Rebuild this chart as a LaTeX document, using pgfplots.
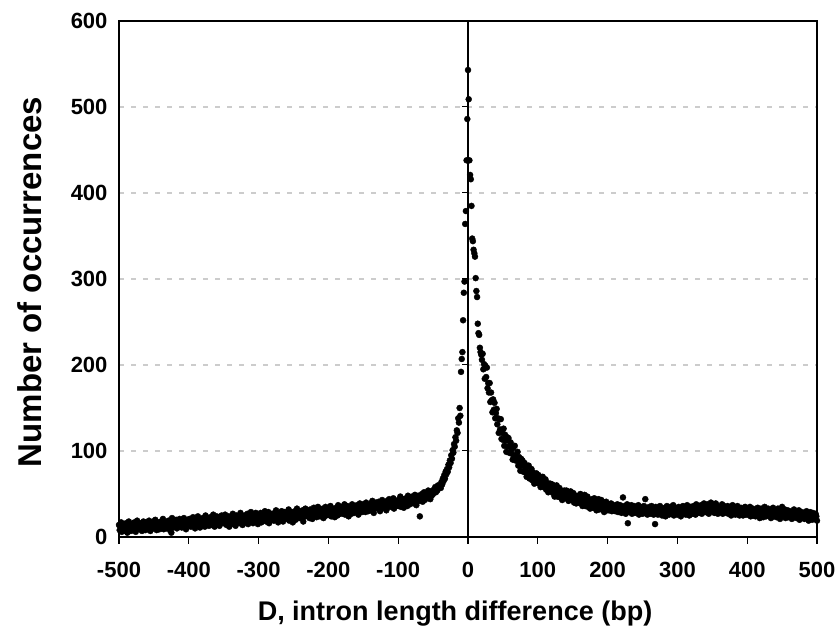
\documentclass[border=0pt]{standalone}
\usepackage{pgfplots}
\pgfplotsset{compat=1.18}
\usepackage{fontspec}
\setmainfont{Liberation Sans}
\begin{document}
\begin{tikzpicture}
\begin{axis}[
 width=698pt, height=516pt, scale only axis,
 xmin=-500, xmax=500, ymin=0, ymax=600,
 axis line style={line width=1.6pt},
 xtick={-500,-400,-300,-200,-100,0,100,200,300,400,500},
 xticklabels={-500,-400,-300,-200,-100,0,100,200,300,400,500},
 ytick={0,100,200,300,400,500,600},
 yticklabels={0,100,200,300,400,500,600},
 xtick pos=bottom, ytick pos=left,
 xtick align=outside,
 major tick length=7pt,
 y tick style={draw=none},
 x tick style={line width=1.2pt, black},
 ymajorgrids,
 grid style={line width=1.3pt, gray!40, dash pattern=on 5pt off 7pt},
 tick label style={font=\bfseries\fontsize{22}{22}\selectfont},
 xticklabel style={yshift=-15pt},
 yticklabel style={xshift=-8pt},
 clip=false,
]
\draw[line width=1.3pt] (axis cs:0,0) -- (axis cs:0,600);
\pgfplotsinvokeforeach{100,200,300,400,500}{\draw[line width=1pt] (axis cs:0,#1) -- ([xshift=-6pt]axis cs:0,#1);}
\addplot[only marks, mark=*, mark size=3pt, black] coordinates {
(-500,14)(-499,8)(-498,12)(-497,17)(-496,6)(-495,10)(-494,15)(-493,9)(-492,13)(-491,7)
(-490,16)(-489,11)(-488,5)(-487,13)(-486,18)(-485,9)(-484,12)(-483,7)(-482,15)(-481,10)
(-480,8)(-479,14)(-478,17)(-477,11)(-476,6)(-475,13)(-474,19)(-473,10)(-472,12)(-471,15)
(-470,9)(-469,16)(-468,12)(-467,7)(-466,14)(-465,18)(-464,11)(-463,13)(-462,8)(-461,17)
(-460,12)(-459,15)(-458,9)(-457,19)(-456,13)(-455,7)(-454,16)(-453,11)(-452,14)(-451,18)
(-450,10)(-449,14)(-448,20)(-447,12)(-446,8)(-445,17)(-444,13)(-443,15)(-442,9)(-441,16)
(-440,18)(-439,11)(-438,14)(-437,21)(-436,9)(-435,15)(-434,13)(-433,17)(-432,10)(-431,16)
(-430,12)(-429,19)(-428,14)(-427,8)(-426,17)(-425,5)(-424,22)(-423,11)(-422,13)(-421,16)
(-420,17)(-419,13)(-418,20)(-417,10)(-416,15)(-415,18)(-414,12)(-413,21)(-412,14)(-411,16)
(-410,11)(-409,19)(-408,15)(-407,22)(-406,13)(-405,17)(-404,9)(-403,18)(-402,16)(-401,20)
(-400,14)(-399,21)(-398,17)(-397,12)(-396,19)(-395,15)(-394,23)(-393,13)(-392,18)(-391,10)
(-390,20)(-389,15)(-388,18)(-387,24)(-386,13)(-385,17)(-384,11)(-383,21)(-382,16)(-381,19)
(-380,22)(-379,14)(-378,18)(-377,12)(-376,25)(-375,17)(-374,20)(-373,15)(-372,19)(-371,13)
(-370,16)(-369,23)(-368,19)(-367,14)(-366,21)(-365,26)(-364,17)(-363,12)(-362,20)(-361,18)
(-360,24)(-359,15)(-358,19)(-357,22)(-356,13)(-355,20)(-354,17)(-353,25)(-352,18)(-351,21)
(-350,16)(-349,22)(-348,26)(-347,19)(-346,14)(-345,21)(-344,18)(-343,24)(-342,12)(-341,20)
(-340,23)(-339,17)(-338,20)(-337,27)(-336,15)(-335,22)(-334,19)(-333,13)(-332,25)(-331,21)
(-330,18)(-329,24)(-328,21)(-327,16)(-326,28)(-325,20)(-324,23)(-323,14)(-322,22)(-321,19)
(-320,25)(-319,17)(-318,22)(-317,19)(-316,27)(-315,15)(-314,24)(-313,21)(-312,18)(-311,29)
(-310,20)(-309,23)(-308,16)(-307,26)(-306,22)(-305,18)(-304,28)(-303,21)(-302,24)(-301,15)
(-300,25)(-299,19)(-298,23)(-297,28)(-296,17)(-295,22)(-294,26)(-293,20)(-292,24)(-291,30)
(-290,21)(-289,18)(-288,26)(-287,23)(-286,29)(-285,16)(-284,24)(-283,22)(-282,27)(-281,20)
(-280,26)(-279,22)(-278,19)(-277,28)(-276,24)(-275,31)(-274,21)(-273,25)(-272,17)(-271,23)
(-270,20)(-269,27)(-268,24)(-267,30)(-266,22)(-265,18)(-264,26)(-263,29)(-262,23)(-261,25)
(-260,28)(-259,21)(-258,25)(-257,32)(-256,19)(-255,26)(-254,23)(-253,29)(-252,24)(-251,17)
(-250,27)(-249,23)(-248,30)(-247,20)(-246,26)(-245,33)(-244,24)(-243,28)(-242,22)(-241,25)
(-240,29)(-239,22)(-238,26)(-237,31)(-236,18)(-235,27)(-234,24)(-233,33)(-232,25)(-231,28)
(-230,24)(-229,30)(-228,27)(-227,22)(-226,32)(-225,26)(-224,29)(-223,21)(-222,28)(-221,34)
(-220,25)(-219,31)(-218,28)(-217,23)(-216,30)(-215,35)(-214,26)(-213,29)(-212,24)(-211,32)
(-210,30)(-209,26)(-208,33)(-207,22)(-206,29)(-205,27)(-204,35)(-203,25)(-202,31)(-201,28)
(-200,32)(-199,26)(-198,30)(-197,36)(-196,24)(-195,29)(-194,33)(-193,27)(-192,31)(-191,23)
(-190,28)(-189,34)(-188,30)(-187,25)(-186,37)(-185,29)(-184,32)(-183,27)(-182,35)(-181,31)
(-180,33)(-179,27)(-178,31)(-177,38)(-176,26)(-175,32)(-174,29)(-173,36)(-172,30)(-171,24)
(-170,35)(-169,29)(-168,33)(-167,27)(-166,38)(-165,31)(-164,34)(-163,28)(-162,36)(-161,32)
(-160,30)(-159,37)(-158,33)(-157,26)(-156,35)(-155,39)(-154,31)(-153,34)(-152,29)(-151,36)
(-150,38)(-149,32)(-148,35)(-147,29)(-146,40)(-145,33)(-144,36)(-143,30)(-142,37)(-141,34)
(-140,31)(-139,39)(-138,35)(-137,42)(-136,33)(-135,28)(-134,37)(-133,34)(-132,40)(-131,36)
(-130,37)(-129,33)(-128,41)(-127,35)(-126,30)(-125,38)(-124,36)(-123,43)(-122,34)(-121,39)
(-120,40)(-119,34)(-118,38)(-117,31)(-116,42)(-115,37)(-114,35)(-113,44)(-112,36)(-111,39)
(-110,35)(-109,41)(-108,38)(-107,45)(-106,33)(-105,39)(-104,42)(-103,36)(-102,40)(-101,37)
(-100,43)(-99,36)(-98,40)(-97,47)(-96,35)(-95,41)(-94,38)(-93,44)(-92,34)(-91,42)
(-90,39)(-89,45)(-88,42)(-87,36)(-86,48)(-85,41)(-84,44)(-83,38)(-82,46)(-81,40)
(-80,47)(-79,40)(-78,44)(-77,39)(-76,49)(-75,43)(-74,37)(-73,46)(-72,42)(-71,48)
(-70,42)(-69,24)(-68,48)(-67,44)(-66,50)(-65,41)(-64,46)(-63,52)(-62,43)(-61,47)
(-60,51)(-59,45)(-58,49)(-57,54)(-56,46)(-55,50)(-54,44)(-53,53)(-52,48)(-51,52)
(-50,50)(-49,55)(-48,53)(-47,58)(-46,52)(-45,56)(-44,54)(-43,60)(-42,57)(-41,59)
(-40,60)(-39,57)(-38,64)(-37,61)(-36,68)(-35,65)(-34,72)(-33,68)(-32,76)(-31,73)
(-30,79)(-29,76)(-28,84)(-27,81)(-26,89)(-25,86)(-24,95)(-23,91)(-22,101)(-21,98)
(-20,108)(-19,105)(-18,116)(-17,112)(-16,124)(-15,121)(-14,138)(-13,133)(-12,150)(-11,141)
(-10,192)(-9,207)(-8,215)(-7,252)(-6,284)(-5,297)(-4,364)(-3,379)(-2,438)(-1,486)(0,543)
(1,509)(2,438)(3,421)(4,416)(5,385)(6,347)(7,344)(8,334)(9,330)(10,326)
(11,301)(12,286)(13,279)(14,248)(15,237)(16,235)(17,220)(18,215)(19,212)(20,206)
(21,213)(22,195)(23,201)(24,184)(25,199)(26,186)(27,197)(28,173)(29,179)(30,168)
(31,179)(32,157)(33,168)(34,159)(35,145)(36,160)(37,148)(38,156)(39,138)(40,144)
(41,149)(42,131)(43,138)(44,121)(45,137)(46,125)(47,137)(48,114)(49,121)(50,113)
(51,126)(52,106)(53,119)(54,112)(55,99)(56,116)(57,105)(58,115)(59,98)(60,106)
(61,110)(62,97)(63,102)(64,90)(65,104)(66,95)(67,106)(68,89)(69,94)(70,89)
(71,99)(72,83)(73,93)(74,87)(75,77)(76,91)(77,83)(78,89)(79,76)(80,83)
(81,86)(82,75)(83,80)(84,70)(85,82)(86,75)(87,83)(88,68)(89,75)(90,70)
(91,79)(92,66)(93,75)(94,69)(95,62)(96,73)(97,67)(98,74)(99,63)(100,68)
(101,72)(102,62)(103,68)(104,58)(105,69)(106,63)(107,70)(108,58)(109,63)(110,60)
(111,67)(112,55)(113,63)(114,58)(115,52)(116,62)(117,56)(118,62)(119,53)(120,57)
(121,61)(122,51)(123,57)(124,47)(125,58)(126,52)(127,60)(128,47)(129,53)(130,50)
(131,57)(132,46)(133,53)(134,49)(135,43)(136,53)(137,47)(138,54)(139,45)(140,50)
(141,54)(142,46)(143,50)(144,42)(145,52)(146,46)(147,53)(148,43)(149,47)(150,44)
(151,51)(152,40)(153,48)(154,44)(155,39)(156,47)(157,42)(158,48)(159,40)(160,45)
(161,50)(162,39)(163,45)(164,36)(165,47)(166,41)(167,49)(168,36)(169,42)(170,38)
(171,47)(172,35)(173,43)(174,39)(175,33)(176,43)(177,37)(178,44)(179,34)(180,40)
(181,45)(182,34)(183,40)(184,31)(185,43)(186,37)(187,44)(188,32)(189,38)(190,34)
(191,43)(192,32)(193,39)(194,35)(195,29)(196,40)(197,34)(198,41)(199,31)(200,37)
(201,38)(202,31)(203,36)(204,33)(205,39)(206,30)(207,35)(208,32)(209,37)(210,34)
(211,30)(212,36)(213,32)(214,38)(215,29)(216,35)(217,31)(218,37)(219,33)(220,28)
(221,35)(222,46)(223,30)(224,36)(225,32)(226,27)(227,34)(228,38)(229,16)(230,31)
(231,29)(232,35)(233,31)(234,37)(235,27)(236,33)(237,30)(238,36)(239,28)(240,32)
(241,34)(242,28)(243,32)(244,37)(245,26)(246,31)(247,35)(248,29)(249,33)(250,27)
(251,32)(252,36)(253,28)(254,44)(255,30)(256,34)(257,26)(258,33)(259,29)(260,35)
(261,27)(262,32)(263,36)(264,29)(265,33)(266,26)(267,31)(268,15)(269,35)(270,28)
(271,32)(272,26)(273,34)(274,29)(275,36)(276,27)(277,31)(278,25)(279,33)(280,30)
(281,28)(282,34)(283,24)(284,31)(285,36)(286,29)(287,33)(288,26)(289,30)(290,35)
(291,27)(292,32)(293,29)(294,37)(295,25)(296,31)(297,34)(298,28)(299,33)(300,26)
(301,30)(302,35)(303,27)(304,32)(305,24)(306,33)(307,29)(308,36)(309,28)(310,31)
(311,34)(312,26)(313,31)(314,37)(315,28)(316,33)(317,25)(318,30)(319,35)(320,29)
(321,32)(322,27)(323,36)(324,30)(325,34)(326,26)(327,38)(328,31)(329,29)(330,33)
(331,28)(332,35)(333,31)(334,37)(335,27)(336,33)(337,30)(338,39)(339,32)(340,29)
(341,34)(342,29)(343,38)(344,31)(345,27)(346,36)(347,33)(348,40)(349,30)(350,35)
(351,32)(352,37)(353,28)(354,34)(355,39)(356,30)(357,36)(358,27)(359,33)(360,31)
(361,35)(362,29)(363,33)(364,38)(365,27)(366,32)(367,36)(368,30)(369,34)(370,28)
(371,31)(372,36)(373,27)(374,33)(375,29)(376,35)(377,25)(378,32)(379,37)(380,30)
(381,28)(382,33)(383,26)(384,34)(385,30)(386,36)(387,27)(388,31)(389,25)(390,32)
(391,34)(392,27)(393,30)(394,25)(395,32)(396,28)(397,35)(398,26)(399,31)(400,29)
(401,26)(402,32)(403,28)(404,35)(405,24)(406,30)(407,27)(408,33)(409,25)(410,31)
(411,29)(412,24)(413,32)(414,27)(415,34)(416,25)(417,30)(418,22)(419,28)(420,33)
(421,26)(422,31)(423,23)(424,29)(425,35)(426,27)(427,24)(428,30)(429,28)(430,33)
(431,25)(432,30)(433,27)(434,22)(435,32)(436,28)(437,34)(438,24)(439,29)(440,26)
(441,31)(442,23)(443,28)(444,33)(445,25)(446,29)(447,21)(448,30)(449,27)(450,35)
(451,24)(452,29)(453,26)(454,32)(455,22)(456,28)(457,25)(458,31)(459,23)(460,27)
(461,30)(462,24)(463,27)(464,21)(465,29)(466,25)(467,32)(468,23)(469,28)(470,26)
(471,22)(472,28)(473,25)(474,31)(475,20)(476,27)(477,24)(478,29)(479,23)(480,26)
(481,28)(482,21)(483,26)(484,24)(485,30)(486,22)(487,27)(488,19)(489,25)(490,29)
(491,23)(492,26)(493,20)(494,28)(495,22)(496,25)(497,21)(498,27)(499,24)(500,19)
};
\end{axis}
\node[font=\bfseries\fontsize{27}{27}\selectfont, anchor=base] at ([xshift=-13pt,yshift=-84pt]current axis.south) {D, intron length difference (bp)};
\node[rotate=90, font=\bfseries\fontsize{33}{33}\selectfont] at ([xshift=-89pt,yshift=-3pt]current axis.west) {Number of occurrences};
\pgfresetboundingbox
\path ([xshift=-119pt,yshift=-89pt]current axis.south west) rectangle ([xshift=20pt,yshift=21pt]current axis.north east);
\end{tikzpicture}
\end{document}
